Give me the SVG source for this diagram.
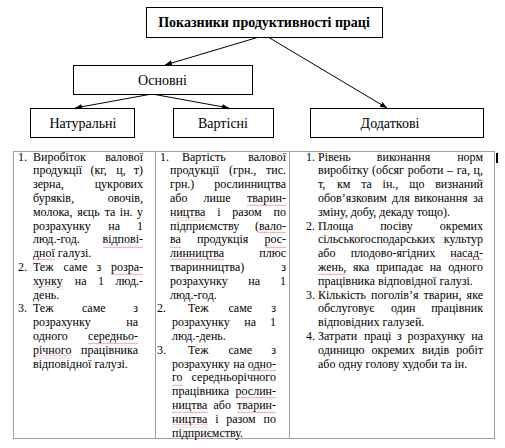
<svg xmlns="http://www.w3.org/2000/svg" width="505" height="448" viewBox="0 0 505 448">
<style>
.box{fill:#fff;stroke:#000;stroke-width:1}
.lbl{font-family:"Liberation Serif","Times New Roman","DejaVu Serif",serif;font-size:14px;text-anchor:middle;fill:#000}
.hd{font-weight:bold}
.c{stroke:#000;stroke-width:1;fill:none}
.grid{stroke:#a0a0a0;stroke-width:1;fill:none}
text.t{font-family:"Liberation Serif","Times New Roman","DejaVu Serif",serif;font-size:12px;fill:#000}
.e{text-anchor:end}
.sp{fill:url(#wv)}
</style>
<defs>
<marker id="ah" viewBox="0 0 10 10" refX="10" refY="5" markerWidth="7" markerHeight="7" markerUnits="userSpaceOnUse" orient="auto">
<path d="M0,1 L10,5 L0,9 Z" fill="#000"/>
</marker>
<pattern id="wv" x="0" y="0" width="4" height="3" patternUnits="userSpaceOnUse">
<path d="M0,2.2 L1,0.8 L2,2.2 L3,0.8 L4,2.2" fill="none" stroke="#e06060" stroke-width="0.6" stroke-opacity="0.75"/>
</pattern>
</defs>
<rect width="505" height="448" fill="#fff"/>
<g id="connectors">
<line class="c" x1="259" y1="37" x2="165" y2="65" marker-end="url(#ah)"/>
<line class="c" x1="268" y1="37" x2="387" y2="108" marker-end="url(#ah)"/>
<line class="c" x1="152" y1="94" x2="75" y2="108" marker-end="url(#ah)"/>
<line class="c" x1="152" y1="94" x2="229" y2="108" marker-end="url(#ah)"/>
</g>
<g id="root"><rect class="box" x="146.5" y="7.5" width="236" height="30"/><text class="lbl hd" x="264" y="27">Показники продуктивності праці</text></g>
<g id="osnovni"><rect class="box" x="73.5" y="65.5" width="179" height="29"/><text class="lbl" x="162.5" y="84.5">Основні</text></g>
<g id="naturalni"><rect class="box" x="30.5" y="108.5" width="104" height="29"/><text class="lbl" x="83" y="127.5">Натуральні</text></g>
<g id="vartisni"><rect class="box" x="173.5" y="108.5" width="100" height="29"/><text class="lbl" x="223" y="127.5">Вартісні</text></g>
<g id="dodatkovi"><rect class="box" x="310.5" y="108.5" width="173" height="29"/><text class="lbl" x="390" y="127.5">Додаткові</text></g>
<g id="table">
<rect class="grid" x="13.5" y="151.5" width="481" height="287"/>
<line class="grid" x1="155.5" y1="151.5" x2="155.5" y2="438.5"/>
<line class="grid" x1="289.5" y1="151.5" x2="289.5" y2="438.5"/>
<rect x="496" y="153" width="2" height="10" fill="#000"/>
</g>
<g id="spellmarks">
<rect class="sp" x="103" y="245" width="40" height="3"/>
<rect class="sp" x="33" y="259" width="22" height="3"/>
<rect class="sp" x="111" y="272.6" width="32" height="3"/>
<rect class="sp" x="33" y="286.4" width="30" height="3"/>
<rect class="sp" x="88" y="341.6" width="50" height="3"/>
<rect class="sp" x="33" y="355.4" width="39" height="3"/>
<rect class="sp" x="247" y="203.6" width="39" height="3"/>
<rect class="sp" x="170" y="217.4" width="36" height="3"/>
<rect class="sp" x="259" y="231.2" width="27" height="3"/>
<rect class="sp" x="170" y="245" width="11" height="3"/>
<rect class="sp" x="265" y="245" width="21" height="3"/>
<rect class="sp" x="170" y="258.8" width="54" height="3"/>
<rect class="sp" x="248" y="369.2" width="28" height="3"/>
<rect class="sp" x="172" y="383" width="11" height="3"/>
<rect class="sp" x="236" y="396.8" width="40" height="3"/>
<rect class="sp" x="172" y="410.6" width="36" height="3"/>
<rect class="sp" x="237" y="410.6" width="39" height="3"/>
<rect class="sp" x="172" y="424.4" width="36" height="3"/>
<rect class="sp" x="172" y="436.8" width="70" height="2"/>
<rect class="sp" x="451" y="258.8" width="32" height="3"/>
<rect class="sp" x="318" y="272.6" width="27" height="3"/>
</g>
<g id="col1">
<text class="t" x="18" y="160.5">1.</text><text class="t" x="33" y="160.5">Виробіток</text><text class="t e" x="143" y="160.5">валової</text>
<text class="t" x="33" y="174.3">продукції</text><text class="t" x="90.4" y="174.3">(кг,</text><text class="t" x="116.3" y="174.3">ц,</text><text class="t e" x="143" y="174.3">т)</text>
<text class="t" x="33" y="188.1">зерна,</text><text class="t e" x="143" y="188.1">цукрових</text>
<text class="t" x="33" y="201.9">буряків,</text><text class="t e" x="143" y="201.9">овочів,</text>
<text class="t" x="33" y="215.7">молока,</text><text class="t" x="77.2" y="215.7">яєць</text><text class="t" x="104.7" y="215.7">та</text><text class="t" x="119.8" y="215.7">ін.</text><text class="t e" x="143" y="215.7">у</text>
<text class="t" x="33" y="229.5">розрахунку</text><text class="t" x="108.3" y="229.5">на</text><text class="t e" x="143" y="229.5">1</text>
<text class="t" x="33" y="243.3">люд.-год.</text><text class="t e" x="143" y="243.3">відпові-</text>
<text class="t" x="33" y="257.1">дної галузі.</text>
<text class="t" x="18" y="270.9">2.</text><text class="t" x="33" y="270.9">Теж</text><text class="t" x="63.5" y="270.9">саме</text><text class="t" x="96.6" y="270.9">з</text><text class="t e" x="143" y="270.9">розра-</text>
<text class="t" x="33" y="284.7">хунку</text><text class="t" x="74.8" y="284.7">на</text><text class="t" x="98" y="284.7">1</text><text class="t e" x="143" y="284.7">люд.-</text>
<text class="t" x="33" y="298.5">день.</text>
<text class="t" x="18" y="312.3">3.</text><text class="t" x="33" y="312.3">Теж</text><text class="t" x="81.9" y="312.3">саме</text><text class="t e" x="138" y="312.3">з</text>
<text class="t" x="33" y="326.1">розрахунку</text><text class="t e" x="138" y="326.1">на</text>
<text class="t" x="33" y="339.9">одного</text><text class="t e" x="138" y="339.9">середньо-</text>
<text class="t" x="33" y="353.7">річного</text><text class="t e" x="138" y="353.7">працівника</text>
<text class="t" x="33" y="367.5">відповідної галузі.</text>
</g>
<g id="col2">
<text class="t" x="160" y="160.5">1.</text><text class="t" x="182" y="160.5">Вартість</text><text class="t e" x="286" y="160.5">валової</text>
<text class="t" x="170" y="174.3">продукції</text><text class="t" x="229" y="174.3">(грн.,</text><text class="t e" x="286" y="174.3">тис.</text>
<text class="t" x="170" y="188.1">грн.)</text><text class="t e" x="286" y="188.1">рослинництва</text>
<text class="t" x="170" y="201.9">або</text><text class="t" x="203.6" y="201.9">лише</text><text class="t e" x="286" y="201.9">тварин-</text>
<text class="t" x="170" y="215.7">ництва</text><text class="t" x="217.2" y="215.7">і</text><text class="t" x="232.2" y="215.7">разом</text><text class="t e" x="286" y="215.7">по</text>
<text class="t" x="170" y="229.5">підприємству</text><text class="t e" x="286" y="229.5">(вало-</text>
<text class="t" x="170" y="243.3">ва</text><text class="t" x="197" y="243.3">продукція</text><text class="t e" x="286" y="243.3">рос-</text>
<text class="t" x="170" y="257.1">линництва</text><text class="t e" x="286" y="257.1">плюс</text>
<text class="t" x="170" y="270.9">тваринництва)</text><text class="t e" x="286" y="270.9">з</text>
<text class="t" x="170" y="284.7">розрахунку</text><text class="t" x="248.3" y="284.7">на</text><text class="t e" x="286" y="284.7">1</text>
<text class="t" x="170" y="298.5">люд.-год.</text>
<text class="t" x="157" y="312.3">2.</text><text class="t" x="188" y="312.3">Теж</text><text class="t" x="228.4" y="312.3">саме</text><text class="t e" x="276" y="312.3">з</text>
<text class="t" x="172" y="326.1">розрахунку</text><text class="t" x="244.3" y="326.1">на</text><text class="t e" x="276" y="326.1">1</text>
<text class="t" x="172" y="339.9">люд.-день.</text>
<text class="t" x="157" y="353.7">3.</text><text class="t" x="188" y="353.7">Теж</text><text class="t" x="228.4" y="353.7">саме</text><text class="t e" x="276" y="353.7">з</text>
<text class="t" x="172" y="367.5">розрахунку</text><text class="t" x="233.2" y="367.5">на</text><text class="t e" x="276" y="367.5">одно-</text>
<text class="t" x="172" y="381.3">го</text><text class="t e" x="276" y="381.3">середньорічного</text>
<text class="t" x="172" y="395.1">працівника</text><text class="t e" x="276" y="395.1">рослин-</text>
<text class="t" x="172" y="408.9">ництва</text><text class="t" x="213.5" y="408.9">або</text><text class="t e" x="276" y="408.9">тварин-</text>
<text class="t" x="172" y="422.7">ництва</text><text class="t" x="215.2" y="422.7">і</text><text class="t" x="226.2" y="422.7">разом</text><text class="t e" x="276" y="422.7">по</text>
<text class="t" x="172" y="436.5">підприємству.</text>
</g>
<g id="col3">
<text class="t" x="306" y="160.5">1.</text><text class="t" x="318" y="160.5">Рівень</text><text class="t" x="376.8" y="160.5">виконання</text><text class="t e" x="483" y="160.5">норм</text>
<text class="t" x="318" y="174.3">виробітку</text><text class="t" x="372.1" y="174.3">(обсяг</text><text class="t" x="407.8" y="174.3">роботи</text><text class="t" x="447.1" y="174.3">–</text><text class="t" x="456.7" y="174.3">га,</text><text class="t e" x="483" y="174.3">ц,</text>
<text class="t" x="318" y="188.1">т,</text><text class="t" x="337" y="188.1">км</text><text class="t" x="361.2" y="188.1">та</text><text class="t" x="382.6" y="188.1">ін.,</text><text class="t" x="409.2" y="188.1">що</text><text class="t e" x="483" y="188.1">визнаний</text>
<text class="t" x="318" y="201.9">обов’язковим</text><text class="t" x="392.1" y="201.9">для</text><text class="t" x="414.2" y="201.9">виконання</text><text class="t e" x="483" y="201.9">за</text>
<text class="t" x="318" y="215.7">зміну, добу, декаду тощо).</text>
<text class="t" x="306" y="229.5">2.</text><text class="t" x="318" y="229.5">Площа</text><text class="t" x="380.2" y="229.5">посіву</text><text class="t e" x="483" y="229.5">окремих</text>
<text class="t" x="318" y="243.3">сільськогосподарських</text><text class="t e" x="483" y="243.3">культур</text>
<text class="t" x="318" y="257.1">або</text><text class="t" x="350.7" y="257.1">плодово-ягідних</text><text class="t e" x="483" y="257.1">насад-</text>
<text class="t" x="318" y="270.9">жень,</text><text class="t" x="352.9" y="270.9">яка</text><text class="t" x="376.2" y="270.9">припадає</text><text class="t" x="429.7" y="270.9">на</text><text class="t e" x="483" y="270.9">одного</text>
<text class="t" x="318" y="284.7">працівника відповідної галузі.</text>
<text class="t" x="306" y="298.5">3.</text><text class="t" x="318" y="298.5">Кількість</text><text class="t" x="371.1" y="298.5">поголів’я</text><text class="t" x="423.6" y="298.5">тварин,</text><text class="t e" x="483" y="298.5">яке</text>
<text class="t" x="318" y="312.3">обслуговує</text><text class="t" x="390.9" y="312.3">один</text><text class="t e" x="483" y="312.3">працівник</text>
<text class="t" x="318" y="326.1">відповідних галузей.</text>
<text class="t" x="306" y="339.9">4.</text><text class="t" x="318" y="339.9">Затрати</text><text class="t" x="363.9" y="339.9">праці</text><text class="t" x="397" y="339.9">з</text><text class="t" x="407.4" y="339.9">розрахунку</text><text class="t e" x="483" y="339.9">на</text>
<text class="t" x="318" y="353.7">одиницю</text><text class="t" x="371.6" y="353.7">окремих</text><text class="t" x="422.1" y="353.7">видів</text><text class="t e" x="483" y="353.7">робіт</text>
<text class="t" x="318" y="367.5">або одну голову худоби та ін.</text>
</g>
</svg>
